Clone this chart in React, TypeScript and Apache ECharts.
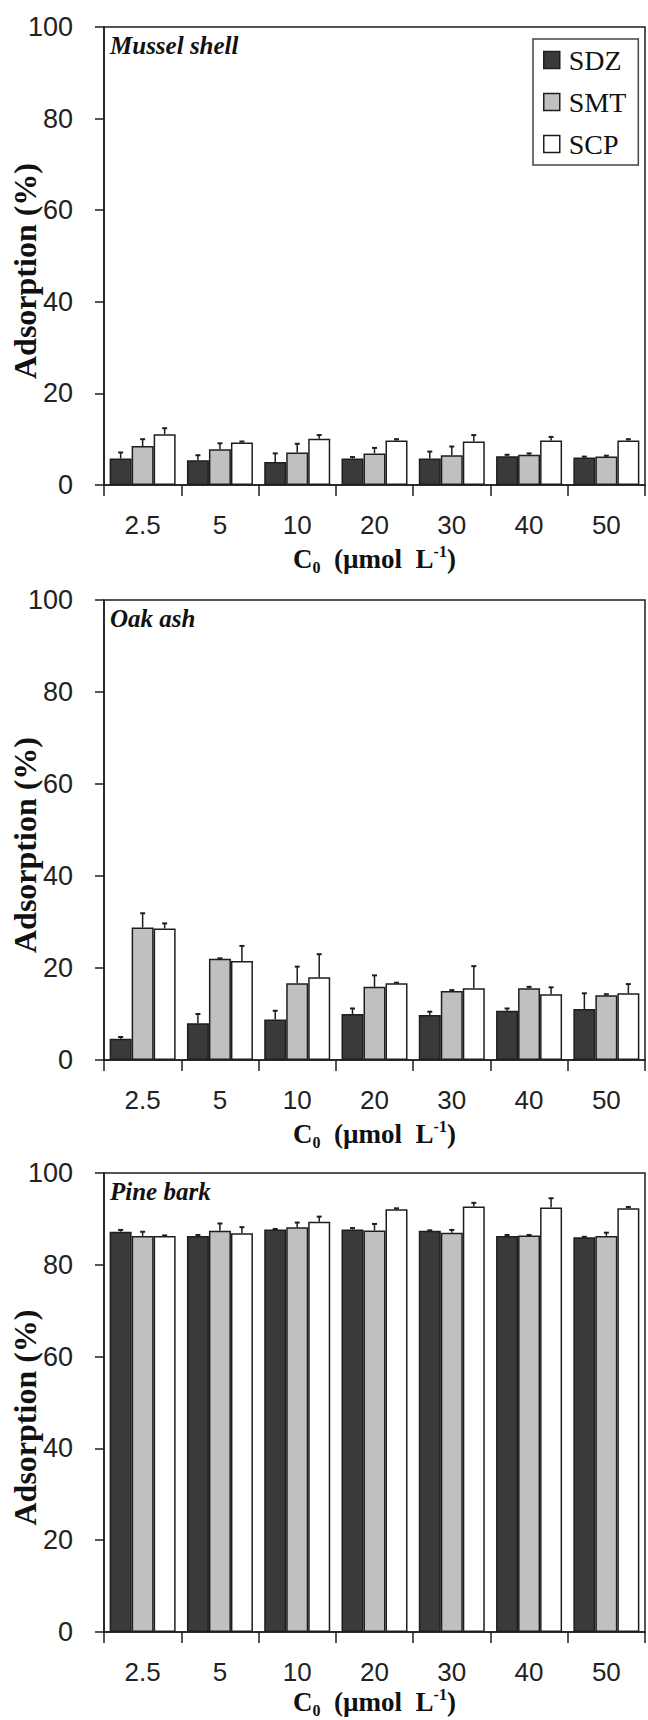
import React, { useEffect, useRef } from 'react';
import * as echarts from 'echarts';

const categories = ['2.5', '5', '10', '20', '30', '40', '50'];
const drugs = ['SDZ', 'SMT', 'SCP'];
const panelTitles = ['Mussel shell', 'Oak ash', 'Pine bark'];

// Mussel shell
const musselSDZ = [5.8, 5.4, 5.0, 5.8, 5.8, 6.3, 6.0];
const musselSDZErr = [1.3, 1.1, 1.9, 0.3, 1.5, 0.3, 0.2];
const musselSMT = [8.5, 7.8, 7.1, 6.9, 6.5, 6.6, 6.2];
const musselSMTErr = [1.5, 1.3, 1.9, 1.2, 1.9, 0.3, 0.2];
const musselSCP = [11.1, 9.3, 10.1, 9.7, 9.5, 9.7, 9.7];
const musselSCPErr = [1.3, 0.2, 0.8, 0.3, 1.4, 0.8, 0.3];

// Oak ash
const oakSDZ = [4.6, 8.0, 8.8, 10.0, 9.8, 10.7, 11.1];
const oakSDZErr = [0.4, 2.0, 1.9, 1.2, 0.7, 0.5, 3.4];
const oakSMT = [28.8, 22.0, 16.7, 15.9, 15.0, 15.6, 14.1];
const oakSMTErr = [3.1, 0.1, 3.6, 2.5, 0.2, 0.3, 0.2];
const oakSCP = [28.6, 21.5, 18.0, 16.7, 15.6, 14.3, 14.5];
const oakSCPErr = [1.1, 3.3, 5.0, 0.1, 4.8, 1.5, 2.0];

// Pine bark
const pineSDZ = [87.2, 86.3, 87.7, 87.7, 87.4, 86.3, 86.0];
const pineSDZErr = [0.4, 0.2, 0.1, 0.3, 0.1, 0.2, 0.1];
const pineSMT = [86.3, 87.4, 88.2, 87.5, 87.0, 86.4, 86.3];
const pineSMTErr = [0.9, 1.6, 1.0, 1.4, 0.6, 0.1, 0.7];
const pineSCP = [86.3, 86.9, 89.4, 92.1, 92.7, 92.5, 92.3];
const pineSCPErr = [0.1, 1.3, 1.1, 0.2, 0.8, 2.0, 0.3];

const panelValues = [
  [musselSDZ, musselSMT, musselSCP],
  [oakSDZ, oakSMT, oakSCP],
  [pineSDZ, pineSMT, pineSCP],
];
const panelErrors = [
  [musselSDZErr, musselSMTErr, musselSCPErr],
  [oakSDZErr, oakSMTErr, oakSCPErr],
  [pineSDZErr, pineSMTErr, pineSCPErr],
];

const barColors = ['#3a3a3a', '#c0c0c0', '#ffffff'];
const GRIDS = [
  { top: 27, height: 458, titleGap: 58 },
  { top: 600, height: 460, titleGap: 58 },
  { top: 1173, height: 459, titleGap: 54 },
];
const GRID_LEFT = 104;
const GRID_WIDTH = 541;
const BAR_W = 22;
const INK = '#1e1e1e';

export default function App() {
  const ref = useRef<HTMLDivElement>(null);

  useEffect(() => {
    if (!ref.current) return;
    const chart = echarts.init(ref.current, null, { renderer: 'svg' });

    const serif = 'Liberation Serif';
    const sans = 'Liberation Sans';

    const grid = GRIDS.map((g) => ({
      left: GRID_LEFT,
      width: GRID_WIDTH,
      top: g.top,
      height: g.height,
      show: true,
      containLabel: false,
      outerBoundsMode: 'none',
      borderColor: INK,
      borderWidth: 1.5,
      backgroundColor: 'transparent',
    }));

    const xAxis = GRIDS.map((g, i) => ({
      type: 'category',
      gridIndex: i,
      data: categories,
      axisLine: { show: true, lineStyle: { color: INK, width: 1.5 } },
      axisTick: { show: true, length: 11, lineStyle: { color: INK, width: 1.5 } },
      axisLabel: { fontFamily: sans, fontSize: 26, color: '#222', margin: 27 },
      name: '{a|C}{sub|0}{a|  (µmol  L}{sup|-1}{a|)}',
      nameLocation: 'middle',
      nameGap: g.titleGap,
      nameMoveOverlap: false,
      nameTextStyle: {
        color: '#111',
        rich: {
          a: { fontFamily: serif, fontWeight: 'bold', fontSize: 27, color: '#111', lineHeight: 32, verticalAlign: 'middle' },
          sub: { fontFamily: serif, fontWeight: 'bold', fontSize: 16, color: '#111', verticalAlign: 'bottom' },
          sup: { fontFamily: serif, fontWeight: 'bold', fontSize: 16, color: '#111', verticalAlign: 'top' },
        },
      },
    }));

    const yAxis = GRIDS.map((_, i) => ({
      type: 'value',
      gridIndex: i,
      min: 0,
      max: 100,
      interval: 20,
      axisLine: { show: true, lineStyle: { color: INK, width: 1.5 } },
      axisTick: { show: true, length: 9, lineStyle: { color: INK, width: 1.5 } },
      splitLine: { show: false },
      axisLabel: { fontFamily: sans, fontSize: 27, color: '#222', margin: 31 },
      name: 'Adsorption (%)',
      nameLocation: 'middle',
      nameRotate: 90,
      nameGap: 63,
      nameMoveOverlap: false,
      nameTextStyle: { fontFamily: serif, fontWeight: 'bold', fontSize: 32, color: '#111', padding: [0, 30, 0, 0] },
    }));

    const series: any[] = [];
    panelValues.forEach((vals, i) => {
      vals.forEach((data, k) => {
        series.push({
          type: 'bar',
          name: drugs[k],
          xAxisIndex: i,
          yAxisIndex: i,
          data,
          barWidth: BAR_W,
          barGap: '0%',
          itemStyle: { color: barColors[k], borderColor: INK, borderWidth: 1.5 },
          z: 2,
        });
      });
      vals.forEach((data, k) => {
        const errs = panelErrors[i][k];
        const offset = (k - 1) * BAR_W;
        series.push({
          type: 'custom',
          name: 'err-' + i + '-' + k,
          xAxisIndex: i,
          yAxisIndex: i,
          silent: true,
          z: 5,
          encode: { x: 0, y: [1, 2] },
          data: data.map((v, j) => [j, v, v + errs[j]]),
          renderItem: (params: any, api: any) => {
            const base = api.coord([api.value(0), api.value(1)]);
            const top = api.coord([api.value(0), api.value(2)]);
            const x = base[0] + offset;
            return {
              type: 'group',
              children: [
                { type: 'line', shape: { x1: x, y1: base[1], x2: x, y2: top[1] }, style: { stroke: INK, lineWidth: 1.5 } },
                { type: 'line', shape: { x1: x - 2.5, y1: top[1], x2: x + 2.5, y2: top[1] }, style: { stroke: INK, lineWidth: 2 } },
              ],
            };
          },
        });
      });
    });

    const graphic = panelTitles.map((t, i) => ({
      type: 'text',
      x: 110,
      y: GRIDS[i].top + 6,
      z: 20,
      style: {
        text: t,
        fontFamily: serif,
        fontStyle: 'italic',
        fontWeight: 'bold',
        fontSize: 25,
        fill: '#111',
        verticalAlign: 'top',
      },
    }));

    chart.setOption({
      animation: false,
      backgroundColor: '#ffffff',
      grid,
      xAxis,
      yAxis,
      legend: {
        data: drugs,
        orient: 'vertical',
        left: 533,
        top: 39,
        icon: 'rect',
        itemWidth: 16,
        itemHeight: 17,
        itemGap: 14,
        padding: [7, 12, 7, 10],
        borderColor: '#444',
        borderWidth: 1.5,
        backgroundColor: '#fff',
        selectedMode: false,
        itemStyle: { borderColor: INK, borderWidth: 1.5 },
        textStyle: { fontFamily: serif, fontSize: 28, color: '#111', padding: [0, 0, 0, 4] },
      },
      graphic,
      series,
    });

    return () => chart.dispose();
  }, []);

  return <div ref={ref} style={{ position: 'absolute', left: 0, top: 0, width: 648, height: 1720 }} />;
}
